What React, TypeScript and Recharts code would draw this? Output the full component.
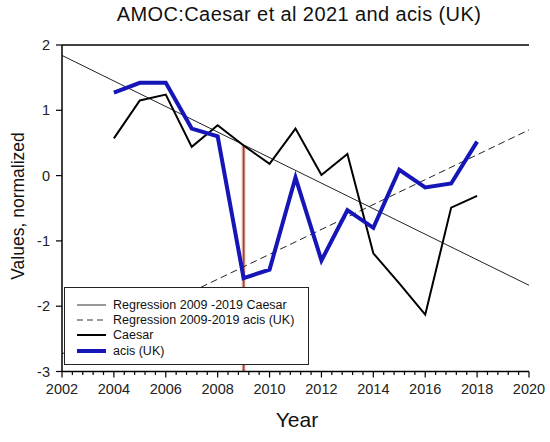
import { LineChart, Line, XAxis, YAxis, ReferenceLine, Legend } from "recharts"

const years = [2004, 2005, 2006, 2007, 2008, 2009, 2010, 2011, 2012, 2013, 2014, 2015, 2016, 2017, 2018]
const caesar = [0.57, 1.15, 1.24, 0.44, 0.77, 0.46, 0.18, 0.72, 0.01, 0.33, -1.19, -1.65, -2.13, -0.49, -0.31]
const acis = [1.27, 1.42, 1.42, 0.72, 0.6, -1.57, -1.44, -0.03, -1.3, -0.53, -0.8, 0.09, -0.18, -0.12, 0.52]

const regYears = [2002, 2020]
const regCaesar = [1.84, -1.68]
const regAcis = [-2.73, 0.7]

const majorYears = [2002, 2004, 2006, 2008, 2010, 2012, 2014, 2016, 2018, 2020]
const minorSteps = [0.4, 0.8, 1.2, 1.6]
const xTicks = [...majorYears, ...majorYears.slice(0, -1).flatMap(y => minorSteps.map(s => y + s))].sort((a, b) => a - b)
const yTicks = [-3, -2, -1, 0, 1, 2]

const caesarData = years.map((year, i) => ({ year, v: caesar[i] }))
const acisData = years.map((year, i) => ({ year, v: acis[i] }))
const regCData = regYears.map((year, i) => ({ year, v: regCaesar[i] }))
const regAData = regYears.map((year, i) => ({ year, v: regAcis[i] }))

const font = "'Liberation Sans', Arial, sans-serif"

const isMajor = (v: number) => majorYears.some(m => Math.abs(m - v) < 0.01)

const BottomTick = (props: any) => {
    const { x, y, payload } = props
    const major = isMajor(payload.value)
    return (
        <g>
            <line x1={x} x2={x} y1={y} y2={y + (major ? 6 : 3.5)} stroke="#000" strokeWidth={1.2} />
            {major && (
                <text x={x} y={y + 22} textAnchor="middle" fontSize={14.5} fill="#222" fontFamily={font}>
                    {Math.round(payload.value)}
                </text>
            )}
        </g>
    )
}

const TopTick = (props: any) => {
    const { x, y, payload } = props
    if (isMajor(payload.value)) return <g />
    return <line x1={x} x2={x} y1={y} y2={y + 4} stroke="#000" strokeWidth={1.2} />
}

const LeftTick = (props: any) => {
    const { x, y, payload } = props
    return (
        <g>
            <line x1={x - 6} x2={x} y1={y} y2={y} stroke="#000" strokeWidth={1.2} />
            <text x={x - 12} y={y + 5} textAnchor="end" fontSize={14.5} fill="#222" fontFamily={font}>
                {payload.value}
            </text>
        </g>
    )
}

const legendItems = [
    { label: "Regression 2009 -2019 Caesar", color: "#333", width: 1, dash: undefined },
    { label: "Regression 2009-2019 acis (UK)", color: "#333", width: 1, dash: "6 4" },
    { label: "Caesar", color: "#000", width: 2, dash: undefined },
    { label: "acis (UK)", color: "#1515b8", width: 4, dash: undefined },
]

const LegendBox = () => (
    <div style={{ width: 245, height: 78, border: "1px solid #222", background: "#fff", paddingTop: 9, boxSizing: "border-box", fontFamily: font, fontSize: 12.5 }}>
        {legendItems.map(item => (
            <div key={item.label} style={{ display: "flex", alignItems: "center", height: 15.4 }}>
                <svg width={48} height={10}>
                    <line x1={12} x2={41} y1={5} y2={5} stroke={item.color} strokeWidth={item.width} strokeDasharray={item.dash} />
                </svg>
                <span style={{ color: "#111" }}>{item.label}</span>
            </div>
        ))}
    </div>
)

export default function App() {
    return (
        <div style={{ position: "relative", width: 550, height: 442, background: "#fff", fontFamily: font }}>
            <style>{"body{margin:0}"}</style>
            <div style={{ position: "absolute", top: 3, left: 0, width: 598, textAlign: "center", fontSize: 20, letterSpacing: 0.4, color: "#111" }}>
                AMOC:Caesar et al 2021 and acis (UK)
            </div>
            <div style={{ position: "absolute", top: 408, left: 0, width: 594, textAlign: "center", fontSize: 21, color: "#111" }}>
                Year
            </div>
            <div style={{ position: "absolute", left: 18, top: 206, transform: "translate(-50%, -50%) rotate(-90deg)", whiteSpace: "nowrap", fontSize: 17.5, color: "#111" }}>
                Values, normalized
            </div>
            <LineChart width={550} height={442} margin={{ top: 40, right: 21, bottom: 40.5, left: 0 }}>
                <XAxis
                    type="number"
                    dataKey="year"
                    domain={[2002, 2020]}
                    ticks={xTicks}
                    interval={0}
                    tickSize={0}
                    tickMargin={0}
                    tickLine={false}
                    tick={<BottomTick />}
                    height={30}
                    axisLine={{ stroke: "#000", strokeWidth: 1.5 }}
                />
                <XAxis
                    xAxisId="top"
                    orientation="top"
                    type="number"
                    dataKey="year"
                    domain={[2002, 2020]}
                    ticks={xTicks}
                    interval={0}
                    tickSize={0}
                    tickMargin={0}
                    tickLine={false}
                    tick={<TopTick />}
                    height={5}
                    axisLine={{ stroke: "#000", strokeWidth: 1.5 }}
                />
                <YAxis
                    type="number"
                    domain={[-3, 2]}
                    ticks={yTicks}
                    interval={0}
                    width={62}
                    tickSize={0}
                    tickMargin={0}
                    tickLine={false}
                    tick={<LeftTick />}
                    axisLine={{ stroke: "#000", strokeWidth: 1.5 }}
                />
                <YAxis
                    yAxisId="right"
                    orientation="right"
                    type="number"
                    domain={[-3, 2]}
                    width={0}
                    tick={false}
                    tickLine={false}
                    axisLine={{ stroke: "#000", strokeWidth: 1.5 }}
                />
                <Legend
                    layout="horizontal"
                    verticalAlign="middle"
                    align="center"
                    content={<LegendBox />}
                    wrapperStyle={{ position: "absolute", left: 64, top: 287, width: 245, bottom: "auto" }}
                />
                <ReferenceLine
                    segment={[{ x: 2009, y: caesar[5] }, { x: 2009, y: -3 }]}
                    stroke="#fbdde2"
                    strokeWidth={5}
                />
                <ReferenceLine
                    segment={[{ x: 2009, y: caesar[5] }, { x: 2009, y: -3 }]}
                    stroke="#a8402a"
                    strokeWidth={2}
                />
                <Line data={regCData} dataKey="v" stroke="#222" strokeWidth={1} dot={false} isAnimationActive={false} />
                <Line data={regAData} dataKey="v" stroke="#222" strokeWidth={1} strokeDasharray="7 4" dot={false} isAnimationActive={false} />
                <Line data={caesarData} dataKey="v" stroke="#000" strokeWidth={2} dot={false} isAnimationActive={false} />
                <Line data={acisData} dataKey="v" stroke="#1515b8" strokeWidth={4} dot={false} isAnimationActive={false} />
            </LineChart>
        </div>
    )
}
